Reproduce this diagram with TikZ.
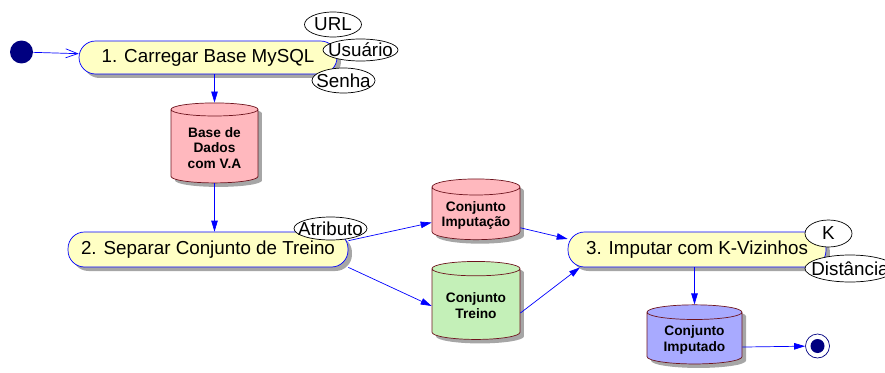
\documentclass[tikz,border=0pt]{standalone}
\usepackage{fontspec}
\setmainfont{Liberation Sans}
\usetikzlibrary{shapes.geometric,shadows,arrows.meta}

\definecolor{azul}{RGB}{0,0,255}
\definecolor{marinho}{RGB}{0,0,128}
\definecolor{amarelo}{RGB}{255,255,196}
\definecolor{rosa}{RGB}{255,184,190}
\definecolor{verde}{RGB}{196,240,184}
\definecolor{lilas}{RGB}{168,170,255}
\definecolor{vinho}{RGB}{110,20,30}

\tikzset{
  sombra/.style={drop shadow={shadow xshift=0.08cm,shadow yshift=-0.08cm,fill=black!35,opacity=1}},
  atividade/.style={draw=azul,fill=amarelo,rounded corners=0.33cm,sombra,
    font=\fontsize{10.7}{12}\selectfont},
  banco/.style={cylinder,shape border rotate=90,aspect=0.2,draw=vinho,align=center,sombra,
    font=\fontsize{7.8}{9}\selectfont\bfseries},
  param/.style={ellipse,draw,fill=white,inner sep=0pt,font=\fontsize{10.7}{12}\selectfont},
  fluxo/.style={draw=azul,-{Triangle[length=0.22cm,width=0.13cm]}}
}

\begin{document}
\begin{tikzpicture}[x=0.02cm,y=-0.02cm]
\useasboundingbox (0,0) rectangle (885,372);

% inicio e fim
\node[circle,fill=marinho,minimum size=0.46cm,inner sep=0pt] (inicio) at (21.5,52) {};
\node[circle,draw=marinho,fill=white,minimum size=0.48cm,inner sep=0pt] (fim) at (817.5,346) {};
\node[circle,fill=marinho,minimum size=0.28cm,inner sep=0pt] (fimcentro) at (fim) {};

% atividades
\node[atividade,minimum width=5.16cm,minimum height=0.66cm] (carregar) at (208,57.5) {1. Carregar Base MySQL};
\node[atividade,minimum width=5.6cm,minimum height=0.7cm] (separar) at (208,249.5) {2. Separar Conjunto de Treino};
\node[atividade,minimum width=5.16cm,minimum height=0.7cm] (imputar) at (697,249.5) {3. Imputar com K-Vizinhos};

% bases de dados
\node[banco,fill=rosa,minimum width=1.74cm,minimum height=1.6cm] (base) at (214.5,148) {Base de\\Dados\\com V.A};
\node[banco,fill=rosa,minimum width=1.76cm,minimum height=1.1cm] (cimput) at (476,215.5) {Conjunto\\Imputação};
\node[banco,fill=verde,minimum width=1.76cm,minimum height=1.56cm] (ctreino) at (476,306) {Conjunto\\Treino};
\node[banco,fill=lilas,minimum width=1.9cm,minimum height=1.08cm] (cimputado) at (694.5,340) {Conjunto\\Imputado};

% parametros
\node[param,minimum width=1.14cm,minimum height=0.5cm] (url) at (333,24.5) {\makebox[0pt]{URL}};
\node[param,minimum width=1.5cm,minimum height=0.44cm] (usuario) at (360.5,50) {\makebox[0pt]{Usuário}};
\node[param,minimum width=1.26cm,minimum height=0.5cm] (senha) at (343.5,80.5) {\makebox[0pt]{Senha}};
\node[param,minimum width=1.46cm,minimum height=0.46cm] (atributo) at (330.5,228.5) {\makebox[0pt]{Atributo}};
\node[param,minimum width=0.94cm,minimum height=0.54cm] (k) at (828.5,233.5) {\makebox[0pt]{K}};
\node[param,minimum width=1.8cm,minimum height=0.54cm] (distancia) at (850,268.5) {\makebox[0pt]{Distância}};

% fluxo
\draw[azul,-{Straight Barb[length=0.24cm,width=0.18cm]}] (inicio) -- (carregar);
\draw[fluxo] (base.north |- carregar.south) -- (base.north);
\draw[fluxo] (base.south) -- (base.south |- separar.north);
\draw[fluxo] ([yshift=5pt]separar.east) -- ([yshift=-4pt]cimput.west);
\draw[fluxo] (separar.south east) -- (ctreino.west);
\draw[fluxo] ([yshift=-7pt]cimput.east) -- ([yshift=6pt]imputar.west);
\draw[fluxo] ([yshift=-4pt]ctreino.east) -- ([xshift=7pt]imputar.south west);
\draw[fluxo] (cimputado.north |- imputar.south) -- (cimputado.north);
\draw[fluxo] ([yshift=-4pt]cimputado.east) -- (fim);

\end{tikzpicture}
\end{document}
